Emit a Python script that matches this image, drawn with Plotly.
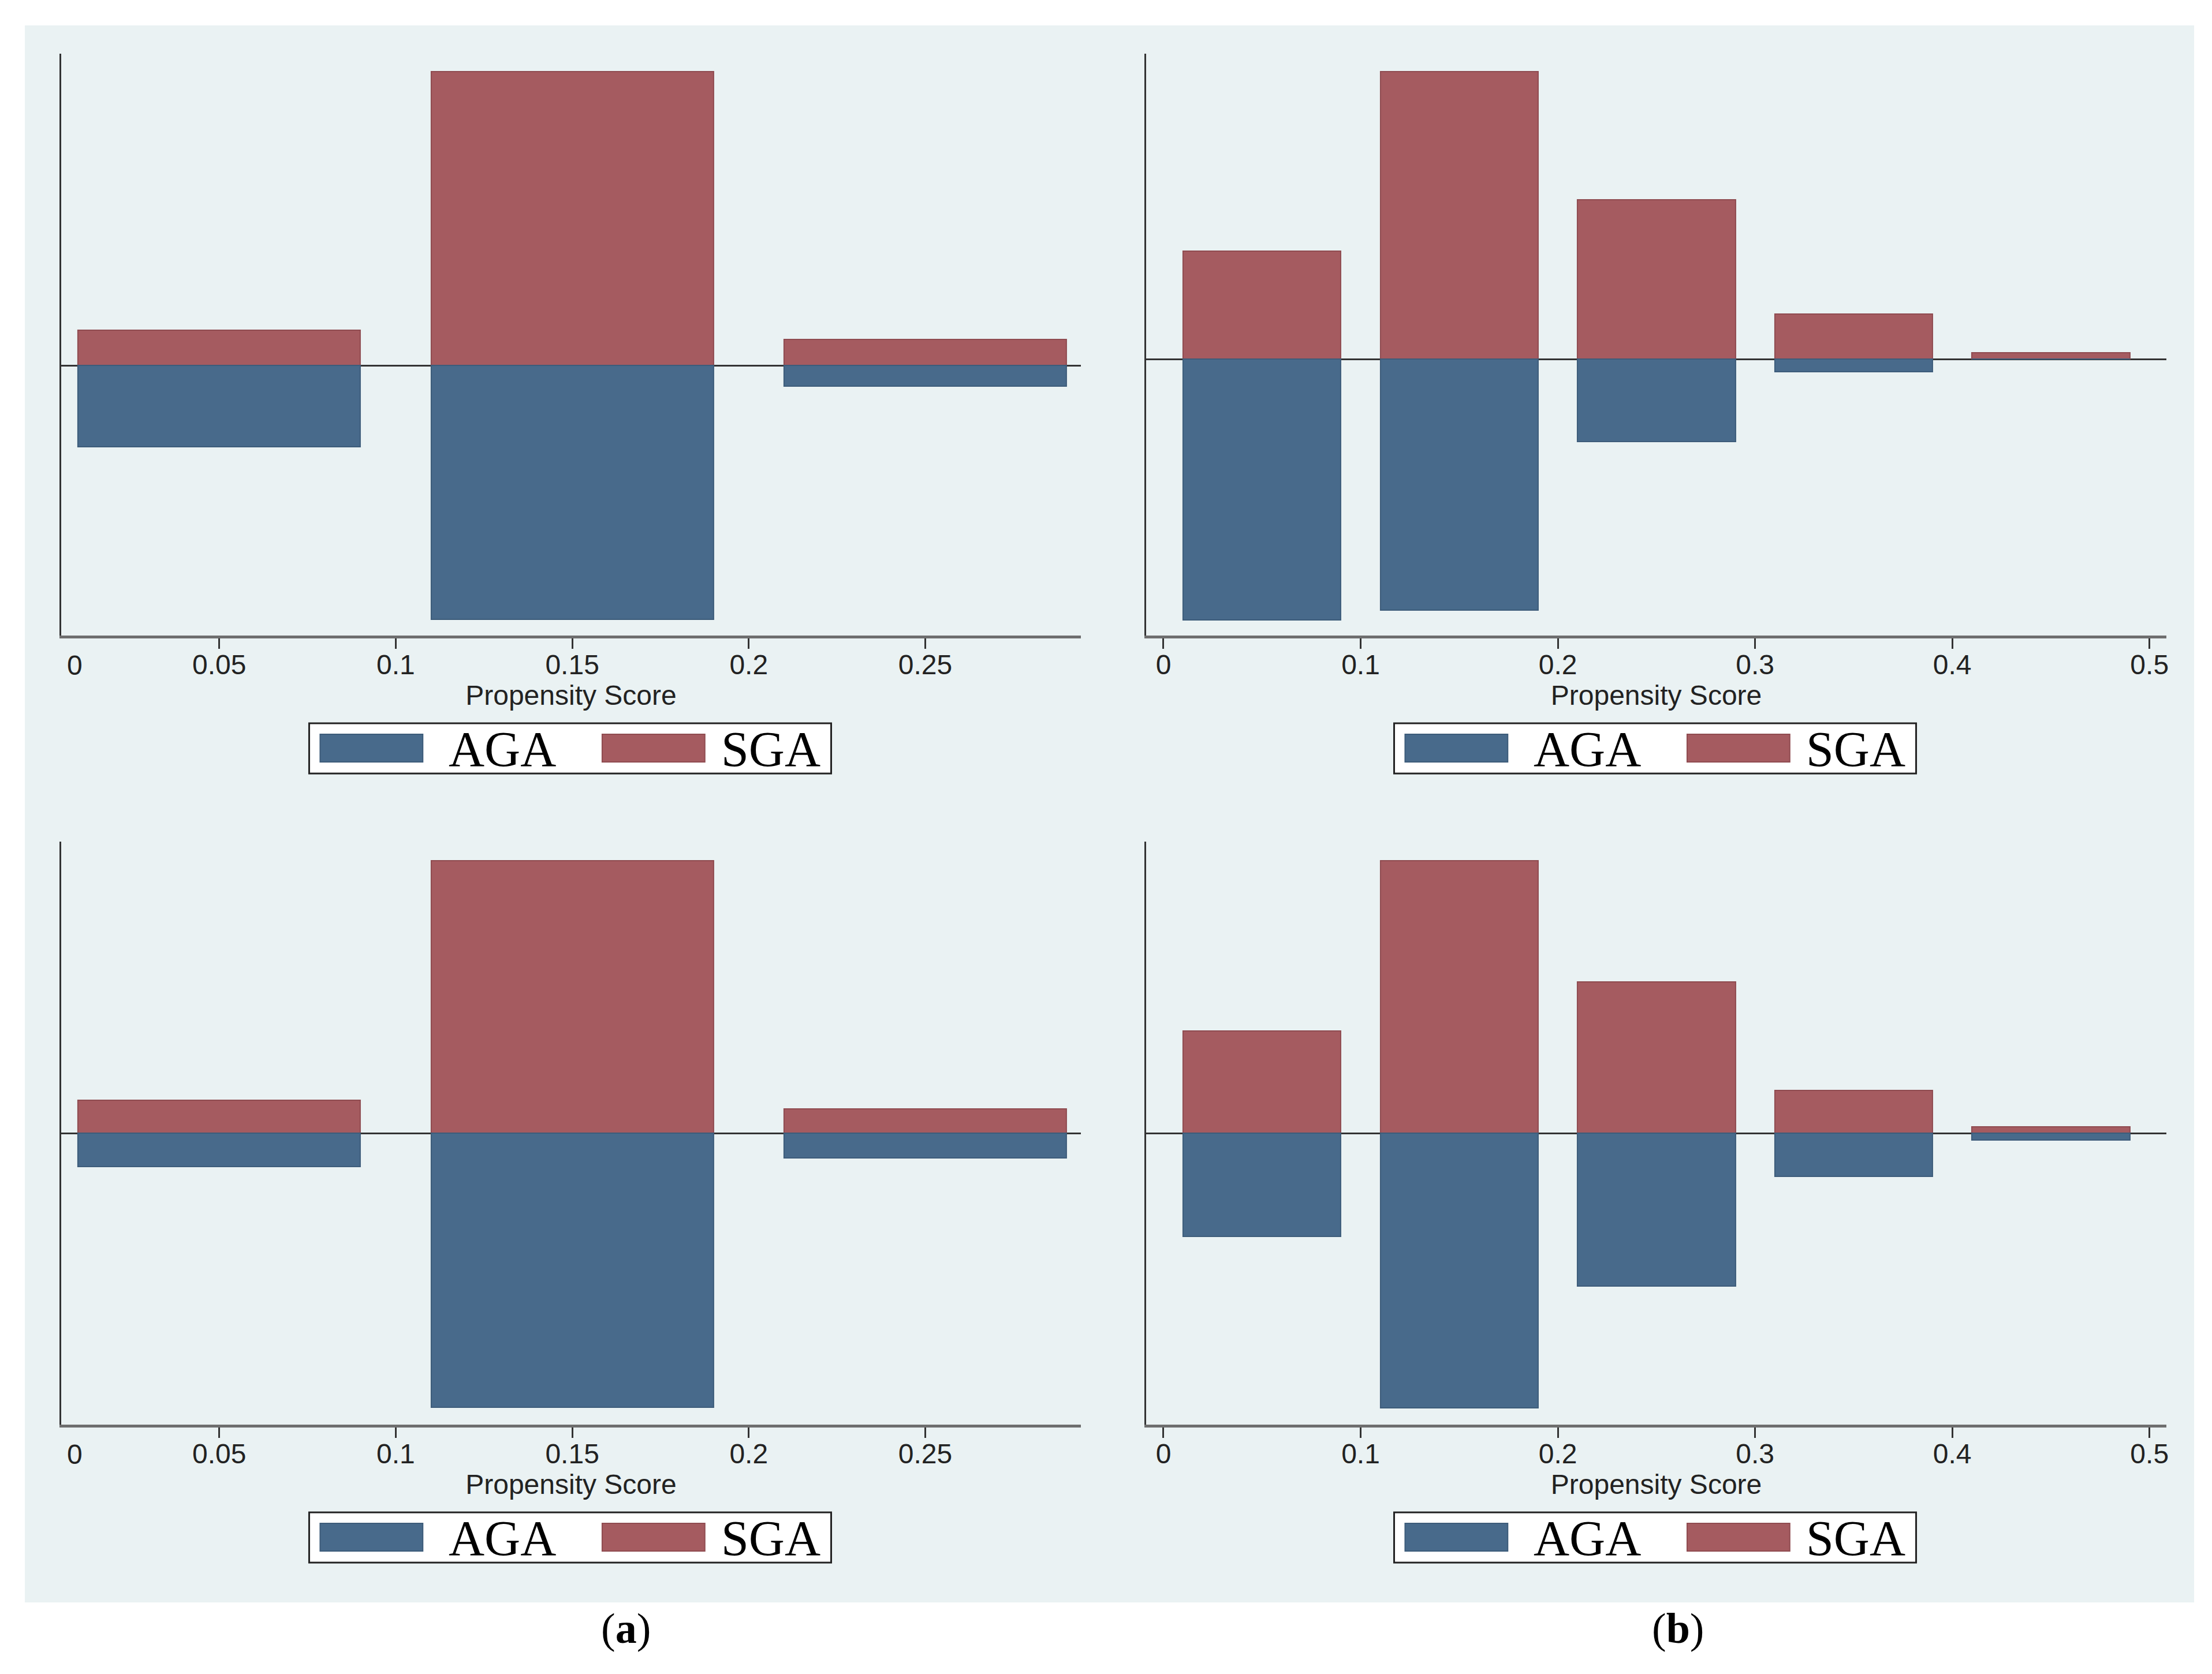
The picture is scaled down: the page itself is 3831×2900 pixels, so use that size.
import plotly.graph_objects as go

# Figure size in pixels
W, H = 3831, 2900

# Bin centres (propensity score), bin width 0.08
bins_a = [0.05, 0.15, 0.25]
bins_b = [0.05, 0.15, 0.25, 0.35, 0.45]
bar_width = 0.08

# Share of each group per bin (AGA is drawn downwards)
sga_a_top = [0.100, 0.826, 0.074]
aga_a_top = [0.229, 0.714, 0.058]
sga_a_bottom = [0.100, 0.826, 0.074]
aga_a_bottom = [0.102, 0.830, 0.076]

sga_b_top = [0.178, 0.474, 0.263, 0.074, 0.011]
aga_b_top = [0.429, 0.413, 0.136, 0.021, 0.0]
sga_b_bottom = [0.178, 0.474, 0.263, 0.074, 0.011]
aga_b_bottom = [0.180, 0.478, 0.266, 0.075, 0.012]

ticks_a = [0.05, 0.1, 0.15, 0.2, 0.25]
ticks_b = [0, 0.1, 0.2, 0.3, 0.4, 0.5]

# Colours (Stata s2color look)
aga_color = '#486a8b'
aga_edge = '#3d5c7a'
sga_color = '#a55b60'
sga_edge = '#8f4b50'
bg_color = '#eaf2f3'


def px(x):
    return x / W


def py(y):
    return 1 - y / H


# pixel boxes of the four plot areas: (left, right, top, bottom)
panels = [
    dict(box=(98, 1866, 85, 1093), x=bins_a, sga=sga_a_top, aga=aga_a_top,
         xr=[0.0052, 0.2941], yr=[-0.759, 0.877], ticks=ticks_a, zero_note=True),
    dict(box=(1979, 3748, 85, 1093), x=bins_b, sga=sga_b_top, aga=aga_b_top,
         xr=[-0.0088, 0.5086], yr=[-0.455, 0.503], ticks=ticks_b, zero_note=False),
    dict(box=(98, 1866, 1450, 2460), x=bins_a, sga=sga_a_bottom, aga=aga_a_bottom,
         xr=[0.0052, 0.2941], yr=[-0.883, 0.883], ticks=ticks_a, zero_note=True),
    dict(box=(1979, 3748, 1450, 2460), x=bins_b, sga=sga_b_bottom, aga=aga_b_bottom,
         xr=[-0.0088, 0.5086], yr=[-0.507, 0.507], ticks=ticks_b, zero_note=False),
]

tick_font = dict(family='Liberation Sans, Arial, sans-serif', size=48, color='#222222')
legend_font = dict(family='Liberation Serif, Times New Roman, serif', size=86, color='black')

fig = go.Figure()
shapes = [dict(type='rect', xref='paper', yref='paper', layer='below',
               x0=px(35), x1=px(3796), y0=py(2768), y1=py(36),
               fillcolor=bg_color, line=dict(width=0))]
annotations = []
layout = {}

for i, p in enumerate(panels, start=1):
    sfx = '' if i == 1 else str(i)
    xa, ya = 'x' + sfx, 'y' + sfx
    left, right, top, bottom = p['box']

    fig.add_trace(go.Bar(x=p['x'], y=p['sga'], width=bar_width, xaxis=xa, yaxis=ya,
                         marker=dict(color=sga_color, line=dict(color=sga_edge, width=2)),
                         name='SGA', showlegend=False))
    fig.add_trace(go.Bar(x=p['x'], y=[-v for v in p['aga']], width=bar_width, xaxis=xa, yaxis=ya,
                         marker=dict(color=aga_color, line=dict(color=aga_edge, width=2)),
                         name='AGA', showlegend=False))

    layout['xaxis' + sfx] = dict(
        domain=[px(left), px(right)], anchor=ya, range=p['xr'],
        tickvals=p['ticks'], ticktext=[f'{t:g}' for t in p['ticks']],
        ticks='outside', ticklen=18, tickwidth=3, tickcolor='#333333',
        ticklabelstandoff=-14, tickfont=tick_font,
        showline=True, linecolor='#6e6e6e', linewidth=5, showgrid=False, zeroline=False,
        title=dict(text='Propensity Score', font=tick_font, standoff=0),
    )
    layout['yaxis' + sfx] = dict(
        domain=[py(bottom), py(top)], anchor=xa, range=p['yr'],
        showticklabels=False, ticks='', showgrid=False,
        showline=True, linecolor='#333333', linewidth=3,
        zeroline=True, zerolinecolor='#333333', zerolinewidth=3,
    )

    # Stata prints the "0" label just inside the axis start
    if p['zero_note']:
        annotations.append(dict(text='0', x=0.0091, xref=xa, y=0, yref=ya + ' domain',
                                yanchor='top', yshift=-23, showarrow=False, font=tick_font))

    # legend box under each panel
    bx0, by0 = left + 430, bottom + 152
    shapes.append(dict(type='rect', xref='paper', yref='paper',
                       x0=px(bx0), x1=px(bx0 + 905), y0=py(by0 + 87), y1=py(by0),
                       fillcolor='white', line=dict(color='#222222', width=3)))
    for kx, col, edge, lab, tx in [(19, aga_color, aga_edge, 'AGA', 240),
                                   (508, sga_color, sga_edge, 'SGA', 712)]:
        shapes.append(dict(type='rect', xref='paper', yref='paper',
                           x0=px(bx0 + kx), x1=px(bx0 + kx + 178),
                           y0=py(by0 + 67), y1=py(by0 + 19),
                           fillcolor=col, line=dict(color=edge, width=2)))
        annotations.append(dict(text=lab, x=px(bx0 + tx), y=py(by0 + 45), xref='paper', yref='paper',
                                xanchor='left', yanchor='middle', showarrow=False, font=legend_font))

# panel captions
cap_font = dict(family='Liberation Serif, Times New Roman, serif', size=74, color='black')
annotations.append(dict(text='(<b>a</b>)', x=px(1032), y=py(2856), xref='paper', yref='paper',
                        showarrow=False, font=cap_font))
annotations.append(dict(text='(<b>b</b>)', x=px(2948), y=py(2856), xref='paper', yref='paper',
                        showarrow=False, font=cap_font))

fig.update_layout(
    width=W, height=H,
    margin=dict(l=0, r=0, t=0, b=0),
    paper_bgcolor='white', plot_bgcolor='white',
    barmode='overlay', bargap=0,
    shapes=shapes, annotations=annotations,
    **layout
)

fig.write_html("out.html")
